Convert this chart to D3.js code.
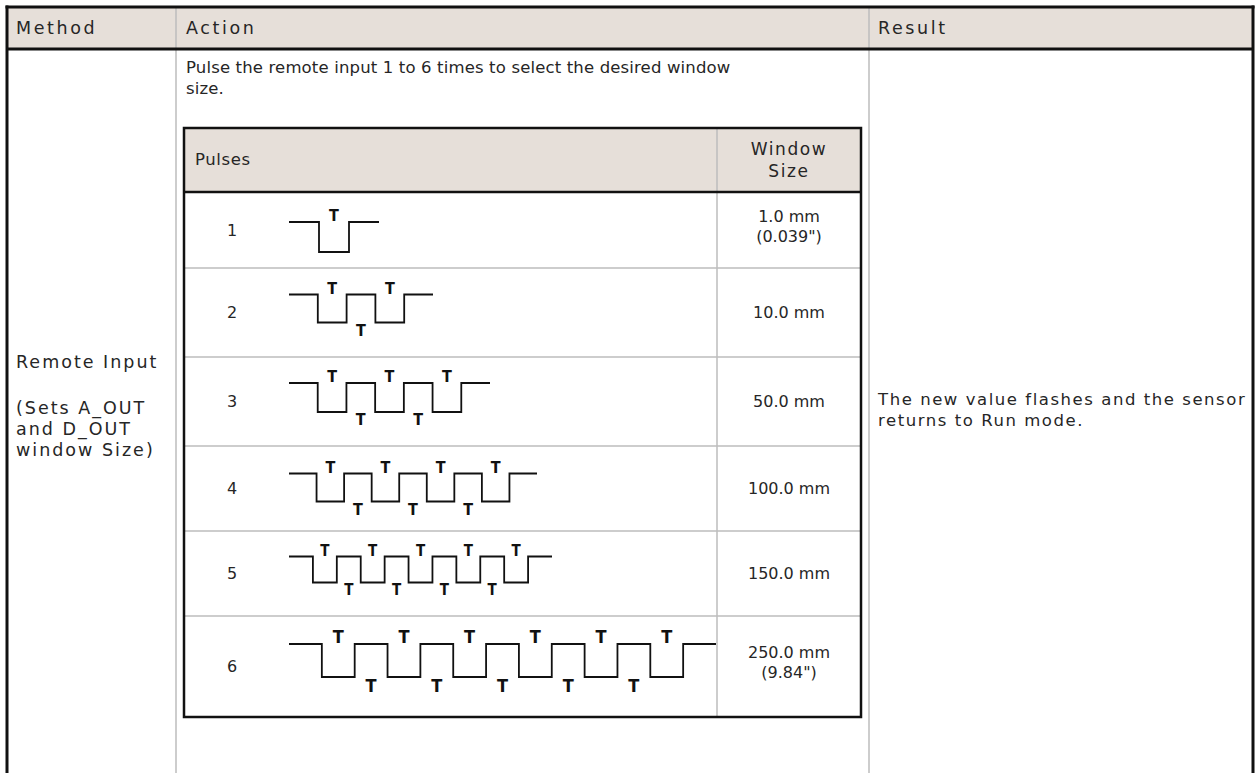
<!DOCTYPE html>
<html><head><meta charset="utf-8">
<script src="https://cdn.jsdelivr.net/npm/d3@7"></script>
<style>body{margin:0;background:#fff}svg{display:block}</style>
</head><body><svg id="c" width="1256" height="773"></svg>
<script>
// ---- data ----
const headers = ["Method", "Action", "Result"];
const methodLines = ["Remote Input", "(Sets A_OUT", "and D_OUT", "window Size)"];
const actionLines = ["Pulse the remote input 1 to 6 times to select the desired window", "size."];
const innerHeaders = ["Pulses", "Window", "Size"];
const pulseCounts = [1, 2, 3, 4, 5, 6];
const windowSizes = [["1.0 mm", "(0.039\")"], ["10.0 mm"], ["50.0 mm"], ["100.0 mm"], ["150.0 mm"], ["250.0 mm", "(9.84\")"]];
const resultLines = ["The new value flashes and the sensor", "returns to Run mode."];
const pulseLabel = "T";

// ---- layout ----
const svg = d3.select("#c");
const W = 1256, H = 773;
const outer = {x0: 7, x1: 1253, y0: 7, yh: 49, cols: [176, 869]};
const inner = {x0: 184, x1: 861, y0: 128, yh: 192, colDiv: 717, y1: 717};
const rowEdges = [192, 268, 357, 446, 531, 616, 717];
const waveStart = 289;
const waveWidth = [90, 144, 201, 248, 263, 427];
const waveAmp = [30, 28, 29, 28, 26, 33];
const waveCenterOff = [7, -4, -4, -1, -4, -6];
const tSize = [16, 16, 16, 16, 15, 18];
const headFill = "#e6dfd9";
const gridCol = "#bdbdbd";
const txtCol = "#262626";
const font = "'DejaVu Sans', sans-serif";

function txt(sel, size, ls) {
  return sel.attr("font-family", font).attr("font-size", size).attr("letter-spacing", ls)
    .attr("fill", txtCol).attr("dominant-baseline", "central");
}

// outer header fill
svg.append("rect").attr("x", outer.x0).attr("y", outer.y0)
  .attr("width", outer.x1 - outer.x0).attr("height", outer.yh - outer.y0).attr("fill", headFill);
// outer column dividers
svg.selectAll("line.ocol").data(outer.cols).join("line").attr("class", "ocol")
  .attr("x1", d => d).attr("x2", d => d).attr("y1", outer.y0).attr("y2", H)
  .attr("stroke", gridCol).attr("stroke-width", 1.5);
// outer thick borders
const thick = [[outer.x0, outer.y0 - 1.5, outer.x0, H], [outer.x1, outer.y0 - 1.5, outer.x1, H],
  [outer.x0 - 1.5, outer.y0, outer.x1 + 1.5, outer.y0], [outer.x0, outer.yh, outer.x1, outer.yh]];
svg.selectAll("line.othick").data(thick).join("line").attr("class", "othick")
  .attr("x1", d => d[0]).attr("y1", d => d[1]).attr("x2", d => d[2]).attr("y2", d => d[3])
  .attr("stroke", "#111").attr("stroke-width", 3);

// outer headers
const headX = [16, 186, 878];
txt(svg.selectAll("text.oh").data(headers).join("text").attr("class", "oh"), 17.5, 2.6)
  .attr("x", (d, i) => headX[i]).attr("y", 28).text(d => d);

// method text
const methodY = [362, 408, 429, 450];
txt(svg.selectAll("text.m").data(methodLines).join("text").attr("class", "m"), 17.5, 2.0)
  .attr("x", 16).attr("y", (d, i) => methodY[i]).text(d => d);

// action text
txt(svg.selectAll("text.a").data(actionLines).join("text").attr("class", "a"), 16.5, 0.15)
  .attr("x", 186).attr("y", (d, i) => 67 + i * 21).text(d => d);

// result text
txt(svg.selectAll("text.r").data(resultLines).join("text").attr("class", "r"), 16.5, 1.55)
  .attr("x", 878).attr("y", (d, i) => 399 + i * 21).text(d => d);

// ---- inner table ----
svg.append("rect").attr("x", inner.x0).attr("y", inner.y0)
  .attr("width", inner.x1 - inner.x0).attr("height", inner.yh - inner.y0).attr("fill", headFill);
svg.selectAll("line.irow").data(rowEdges.slice(1, -1)).join("line").attr("class", "irow")
  .attr("x1", inner.x0).attr("x2", inner.x1).attr("y1", d => d).attr("y2", d => d)
  .attr("stroke", gridCol).attr("stroke-width", 1.5);
svg.append("line").attr("x1", inner.colDiv).attr("x2", inner.colDiv)
  .attr("y1", inner.y0).attr("y2", inner.y1).attr("stroke", gridCol).attr("stroke-width", 1.5);
svg.append("rect").attr("x", inner.x0).attr("y", inner.y0)
  .attr("width", inner.x1 - inner.x0).attr("height", inner.y1 - inner.y0)
  .attr("fill", "none").attr("stroke", "#111").attr("stroke-width", 2.5);
svg.append("line").attr("x1", inner.x0).attr("x2", inner.x1).attr("y1", inner.yh).attr("y2", inner.yh)
  .attr("stroke", "#111").attr("stroke-width", 2.5);

txt(svg.append("text"), 16.5, 0.6).attr("x", 195).attr("y", 159).text(innerHeaders[0]);
txt(svg.selectAll("text.ih").data(innerHeaders.slice(1)).join("text").attr("class", "ih"), 17, 1.6)
  .attr("x", 789).attr("y", (d, i) => 149 + i * 22).attr("text-anchor", "middle").text(d => d);

const rowY = d3.scaleOrdinal().domain(pulseCounts).range(pulseCounts.map((d, i) => (rowEdges[i] + rowEdges[i + 1]) / 2));

// pulse count numbers
txt(svg.selectAll("text.pn").data(pulseCounts).join("text").attr("class", "pn"), 16, 0)
  .attr("x", 232).attr("y", d => rowY(d)).attr("text-anchor", "middle").text(d => d);

// window sizes
pulseCounts.forEach((p, i) => {
  const lines = windowSizes[i];
  txt(svg.selectAll(null).data(lines).join("text"), 16, 0)
    .attr("x", 789).attr("y", (d, j) => rowY(p) + (j - (lines.length - 1) / 2) * 20 + (lines.length > 1 ? -4 : 0))
    .attr("text-anchor", "middle").text(d => d);
});

// waveforms
const line = d3.line();
pulseCounts.forEach((n, i) => {
  const units = 2 * n + 1;
  const x = d3.scaleLinear().domain([0, units]).range([waveStart, waveStart + waveWidth[i]]);
  const c = rowY(n) + waveCenterOff[i];
  const y = d3.scaleLinear().domain([0, 1]).range([c + waveAmp[i] / 2, c - waveAmp[i] / 2]);
  const pts = [];
  for (let s = 0; s < units; s++) {
    const lvl = s % 2 === 0 ? 1 : 0;
    pts.push([x(s), y(lvl)], [x(s + 1), y(lvl)]);
  }
  svg.append("path").attr("d", line(pts)).attr("fill", "none")
    .attr("stroke", "#111").attr("stroke-width", 1.8);
  const labels = [];
  for (let s = 1; s < units - 1; s++) labels.push({s, top: s % 2 === 1});
  svg.selectAll(null).data(labels).join("text")
    .attr("x", d => x(d.s + 0.5))
    .attr("y", d => d.top ? y(1) - 1 : y(0) + 1)
    .attr("dominant-baseline", d => d.top ? "alphabetic" : "hanging")
    .attr("text-anchor", "middle")
    .attr("font-family", "'Liberation Sans Narrow', 'DejaVu Sans Condensed', sans-serif")
    .attr("font-weight", "bold").attr("font-size", tSize[i]).attr("fill", "#111")
    .text(pulseLabel);
});
</script></body></html>
